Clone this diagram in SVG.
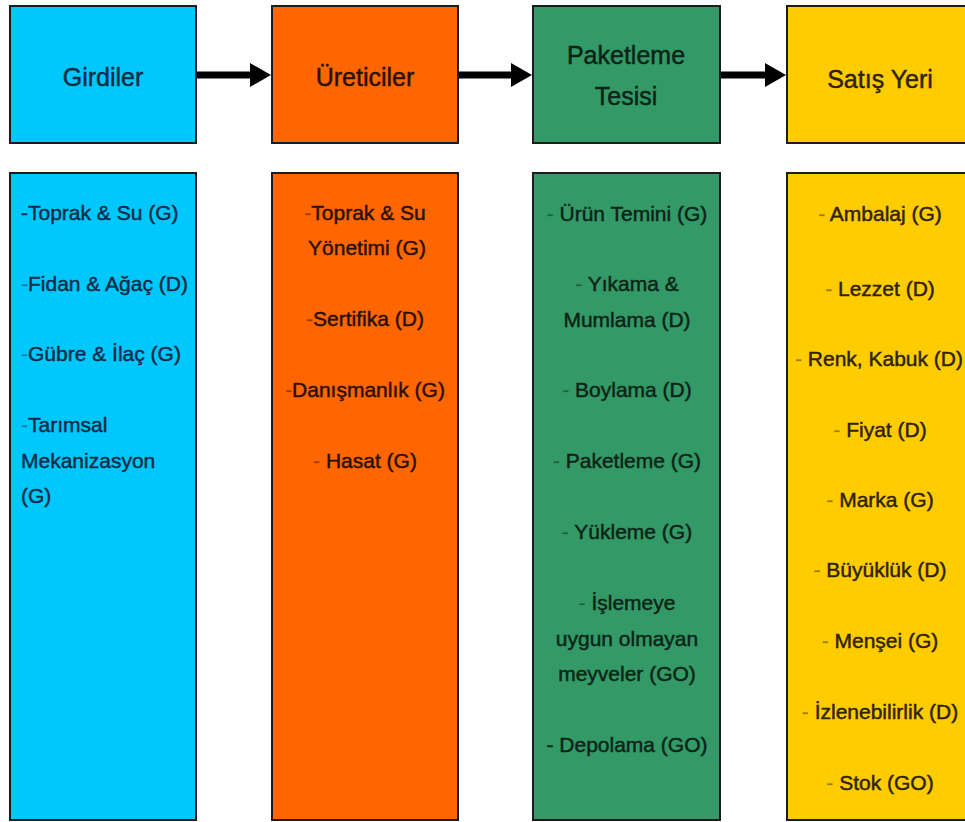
<svg xmlns="http://www.w3.org/2000/svg" width="965" height="822" viewBox="0 0 965 822">
<style>
  .box { stroke: #1c1c1c; stroke-width: 2; }
  .cyan { fill: #00C8FC; }
  .orange { fill: #FF6600; }
  .green { fill: #339966; }
  .yellow { fill: #FFCC00; }
  text { font-family: "Liberation Sans", Arial, sans-serif; stroke-width: 0.45; }
  .hdr { font-size: 25px; text-anchor: middle; }
  .body { font-size: 21px; }
  .mid { text-anchor: middle; }
  .tc { fill: #0a2c47; stroke: #0a2c47; }
  .to { fill: #2a1000; stroke: #2a1000; }
  .tg { fill: #0b2417; stroke: #0b2417; }
  .ty { fill: #2e2200; stroke: #2e2200; }
  .d { fill-opacity: 0.45; stroke-opacity: 0.3; }
  .conn { stroke: #000; stroke-width: 7; fill: none; }
  .head { fill: #000; }
</style>

<g id="connectors">
  <line class="conn" x1="197" y1="75" x2="252" y2="75"/>
  <polygon class="head" points="250,63 271,75 250,87"/>
  <line class="conn" x1="459" y1="75" x2="513" y2="75"/>
  <polygon class="head" points="511,63 532,75 511,87"/>
  <line class="conn" x1="721" y1="75" x2="767" y2="75"/>
  <polygon class="head" points="765,63 786,75 765,87"/>
</g>

<g id="girdiler">
  <rect class="box cyan" x="10" y="6" width="186" height="137"/>
  <text class="hdr tc" x="103" y="86">Girdiler</text>
</g>
<g id="ureticiler">
  <rect class="box orange" x="272" y="6" width="186" height="137"/>
  <text class="hdr to" x="365" y="86">Üreticiler</text>
</g>
<g id="paketleme">
  <rect class="box green" x="533" y="6" width="187" height="137"/>
  <text class="hdr tg" x="626" y="64">Paketleme</text>
  <text class="hdr tg" x="626" y="105">Tesisi</text>
</g>
<g id="satis">
  <rect class="box yellow" x="787" y="6" width="190" height="137"/>
  <text class="hdr ty" x="880" y="88">Satış Yeri</text>
</g>

<g id="girdiler-list">
  <rect class="box cyan" x="10" y="173" width="186" height="647"/>
  <text class="body tc" x="21" y="220">-Toprak &amp; Su (G)</text>
  <text class="body tc" x="21" y="291"><tspan class="d">-</tspan>Fidan &amp; Ağaç (D)</text>
  <text class="body tc" x="21" y="361"><tspan class="d">-</tspan>Gübre &amp; İlaç (G)</text>
  <text class="body tc" x="21" y="432"><tspan class="d">-</tspan>Tarımsal</text>
  <text class="body tc" x="21" y="468">Mekanizasyon</text>
  <text class="body tc" x="21" y="503">(G)</text>
</g>

<g id="ureticiler-list">
  <rect class="box orange" x="272" y="173" width="186" height="647"/>
  <text class="body mid to" x="365" y="220"><tspan class="d">-</tspan>Toprak &amp; Su</text>
  <text class="body mid to" x="367" y="255">Yönetimi (G)</text>
  <text class="body mid to" x="365" y="326"><tspan class="d">-</tspan>Sertifika (D)</text>
  <text class="body mid to" x="365" y="397"><tspan class="d">-</tspan>Danışmanlık (G)</text>
  <text class="body mid to" x="365" y="468"><tspan class="d">- </tspan>Hasat (G)</text>
</g>

<g id="paketleme-list">
  <rect class="box green" x="533" y="173" width="187" height="647"/>
  <text class="body mid tg" x="627" y="221"><tspan class="d">- </tspan>Ürün Temini (G)</text>
  <text class="body mid tg" x="627" y="291"><tspan class="d">- </tspan>Yıkama &amp;</text>
  <text class="body mid tg" x="627" y="327">Mumlama (D)</text>
  <text class="body mid tg" x="627" y="397"><tspan class="d">- </tspan>Boylama (D)</text>
  <text class="body mid tg" x="627" y="468"><tspan class="d">- </tspan>Paketleme (G)</text>
  <text class="body mid tg" x="627" y="539"><tspan class="d">- </tspan>Yükleme (G)</text>
  <text class="body mid tg" x="627" y="610"><tspan class="d">- </tspan>İşlemeye</text>
  <text class="body mid tg" x="627" y="646">uygun olmayan</text>
  <text class="body mid tg" x="627" y="681">meyveler (GO)</text>
  <text class="body mid tg" x="627" y="752">- Depolama (GO)</text>
</g>

<g id="satis-list">
  <rect class="box yellow" x="787" y="173" width="190" height="647"/>
  <text class="body mid ty" x="880" y="221"><tspan class="d">- </tspan>Ambalaj (G)</text>
  <text class="body mid ty" x="880" y="296"><tspan class="d">- </tspan>Lezzet (D)</text>
  <text class="body mid ty" x="879" y="366"><tspan class="d">- </tspan>Renk, Kabuk (D)</text>
  <text class="body mid ty" x="880" y="437"><tspan class="d">- </tspan>Fiyat (D)</text>
  <text class="body mid ty" x="880" y="507"><tspan class="d">- </tspan>Marka (G)</text>
  <text class="body mid ty" x="880" y="577"><tspan class="d">- </tspan>Büyüklük (D)</text>
  <text class="body mid ty" x="880" y="648"><tspan class="d">- </tspan>Menşei (G)</text>
  <text class="body mid ty" x="880" y="719"><tspan class="d">- </tspan>İzlenebilirlik (D)</text>
  <text class="body mid ty" x="880" y="790"><tspan class="d">- </tspan>Stok (GO)</text>
</g>
</svg>
